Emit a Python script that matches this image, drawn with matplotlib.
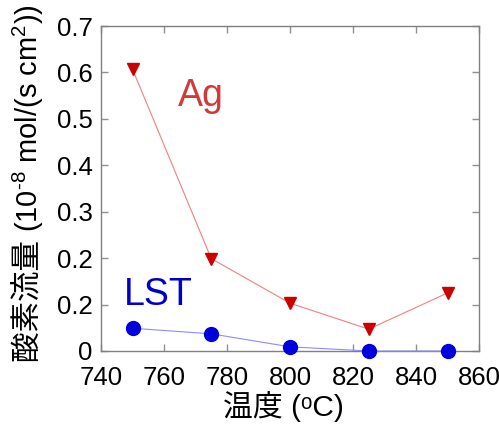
import matplotlib
matplotlib.use("Agg")
import matplotlib.pyplot as plt

plt.rcParams['font.family'] = ['Liberation Sans', 'Noto Sans CJK JP', 'DejaVu Sans']
plt.rcParams['mathtext.fontset'] = 'custom'
plt.rcParams['mathtext.rm'] = 'Liberation Sans'
plt.rcParams['mathtext.it'] = 'Liberation Sans'
plt.rcParams['mathtext.default'] = 'regular'

temps = [750, 775, 800, 825, 850]
ag_flux = [0.607, 0.199, 0.103, 0.047, 0.125]
lst_flux = [0.049, 0.037, 0.009, 0.0, 0.0]
xticks = [740, 760, 780, 800, 820, 840, 860]
yticks = [0, 0.1, 0.2, 0.3, 0.4, 0.5, 0.6, 0.7]
ytick_labels = ['0', '0.2', '0.2', '0.3', '0.4', '0.5', '0.6', '0.7']

W, H = 499, 425
fig = plt.figure(figsize=(W/100, H/100), dpi=100)
ax = fig.add_axes([101/W, 1-351/H, 378/W, 325/H])

ax.plot(temps, ag_flux, color='#f08080', lw=0.8, marker='v', ms=9,
        mfc='#cc0000', mec='#cc0000', zorder=3)
ax.plot(temps, lst_flux, color='#8c8cff', lw=0.8, marker='o', ms=10,
        mfc='#0000dd', mec='#0000dd', zorder=3, clip_on=False)

ax.text(764.5, 0.527, 'Ag', color='#d03a3a', fontsize=27)
ax.text(747.3, 0.099, 'LST', color='#0000cc', fontsize=27)

ax.set_xlim(740, 860)
ax.set_ylim(0, 0.7)
ax.set_xticks(xticks)
ax.set_yticks(yticks)
ax.set_yticklabels(ytick_labels)
ax.tick_params(direction='in', length=5, width=1, colors='#909090',
               labelcolor='black', labelsize=18.5, top=True, right=True)
ax.tick_params(axis='x', pad=11)
ax.tick_params(axis='y', pad=6)
for s in ax.spines.values():
    s.set_color('#808080')
    s.set_linewidth(1)

ax.set_xlabel('温度 (ᵒC)', fontsize=21.5)
ax.xaxis.set_label_coords(0.483, -0.122)

# y label: CJK part + mathtext part, sharing one baseline
fig.canvas.draw()
renderer = fig.canvas.get_renderer()
base_x = 38 / W
y0 = (H - 362) / H
t1 = fig.text(base_x, y0, '酸素流量 ', rotation=90, rotation_mode='anchor',
              ha='left', va='baseline', fontsize=22)
bb = t1.get_window_extent(renderer)
fig.text(base_x, y0 + bb.height / H, '(10$^{\u20108}$ mol/(s cm$^{2}$))',
         rotation=90, rotation_mode='anchor', ha='left', va='baseline', fontsize=21)

fig.savefig('out.png', dpi=100)
